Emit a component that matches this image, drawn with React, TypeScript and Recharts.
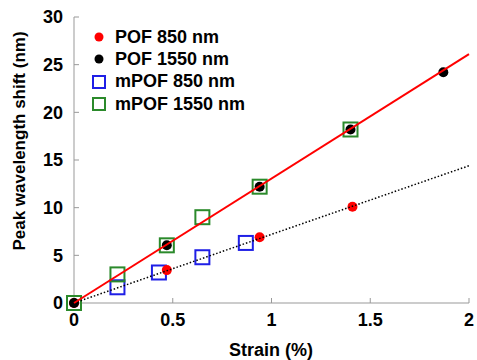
import React from 'react';
import { ComposedChart, Scatter, XAxis, YAxis, Legend } from 'recharts';

const pof850Strain = [0, 0.47, 0.94, 1.41];
const pof850Shift = [0, 3.45, 6.9, 10.1];
const pof1550Strain = [0, 0.47, 0.94, 1.4, 1.87];
const pof1550Shift = [0, 6.05, 12.2, 18.2, 24.2];
const mpof850Strain = [0, 0.22, 0.43, 0.65, 0.87];
const mpof850Shift = [0, 1.65, 3.2, 4.8, 6.3];
const mpof1550Strain = [0, 0.22, 0.47, 0.65, 0.94, 1.4];
const mpof1550Shift = [0, 3.0, 6.05, 9.0, 12.2, 18.2];
const fit1550Strain = [0, 2];
const fit1550Shift = [0, 26.1];
const fit850Strain = [0, 2];
const fit850Shift = [0, 14.4];

const xTicks = [0, 0.5, 1, 1.5, 2];
const yTicks = [0, 5, 10, 15, 20, 25, 30];

const zip = (xs: number[], ys: number[]) => xs.map((x, i) => ({ x, y: ys[i] }));

const pof850 = zip(pof850Strain, pof850Shift);
const pof1550 = zip(pof1550Strain, pof1550Shift);
const mpof850 = zip(mpof850Strain, mpof850Shift);
const mpof1550 = zip(mpof1550Strain, mpof1550Shift);
const fit1550 = zip(fit1550Strain, fit1550Shift);
const fit850 = zip(fit850Strain, fit850Shift);

const FONT = '"Liberation Sans", Arial, Helvetica, sans-serif';
const AXIS_GRAY = '#999999';
const RED = '#ff0000';
const BLUE = '#1f1fe6';
const GREEN = '#2b8a2b';

const dot = (color: string) => (props: any) => (
  <circle cx={props.cx} cy={props.cy} r={5} fill={color} />
);
const square = (color: string) => (props: any) => (
  <rect x={props.cx - 7} y={props.cy - 7} width={14} height={14} fill="none" stroke={color} strokeWidth={2} />
);
const noShape = () => <g />;

const legendItems = [
  { label: 'POF 850 nm', color: RED, kind: 'dot' },
  { label: 'POF 1550 nm', color: '#000000', kind: 'dot' },
  { label: 'mPOF 850 nm', color: BLUE, kind: 'square' },
  { label: 'mPOF 1550 nm', color: GREEN, kind: 'square' },
];

const LegendContent = () => (
  <div style={{ fontFamily: FONT, fontWeight: 'bold', fontSize: 18, color: '#000' }}>
    {legendItems.map((it) => (
      <div key={it.label} style={{ display: 'flex', alignItems: 'center', height: 22.3 }}>
        <svg width={16} height={16} style={{ marginRight: 8 }}>
          {it.kind === 'dot' ? (
            <circle cx={8} cy={8} r={4.5} fill={it.color} />
          ) : (
            <rect x={2} y={2} width={12} height={12} fill="none" stroke={it.color} strokeWidth={2} />
          )}
        </svg>
        <span>{it.label}</span>
      </div>
    ))}
  </div>
);

const tickStyle = { fontFamily: FONT, fontWeight: 'bold', fontSize: 18, fill: '#000' };

export default function App() {
  return (
    <div style={{ position: 'absolute', left: 0, top: 0 }}>
      <ComposedChart width={477} height={360} margin={{ top: 17, right: 8, bottom: 27, left: 24 }}>
        <XAxis
          dataKey="x"
          type="number"
          domain={[0, 2]}
          ticks={xTicks}
          height={30}
          stroke={AXIS_GRAY}
          tick={tickStyle}
          tickSize={-5}
          tickMargin={15}
          tickLine={{ stroke: AXIS_GRAY }}
          axisLine={{ stroke: AXIS_GRAY }}
          label={{
            content: () => (
              <text x={271} y={350} textAnchor="middle" dominantBaseline="central" style={{ fontFamily: FONT, fontWeight: 'bold', fontSize: 18, fill: '#000' }}>
                Strain (%)
              </text>
            ),
          }}
        />
        <XAxis
          xAxisId="top"
          orientation="top"
          type="number"
          domain={[0, 2]}
          ticks={xTicks}
          height={0}
          tick={false}
          tickSize={-5}
          tickLine={{ stroke: AXIS_GRAY }}
          axisLine={{ stroke: AXIS_GRAY }}
        />
        <YAxis
          dataKey="y"
          type="number"
          domain={[0, 30]}
          ticks={yTicks}
          width={50}
          tick={tickStyle}
          tickSize={-5}
          tickMargin={16}
          tickLine={{ stroke: AXIS_GRAY }}
          axisLine={{ stroke: AXIS_GRAY }}
          label={{
            content: () => (
              <text x={19} y={141} transform="rotate(-90 19 141)" textAnchor="middle" dominantBaseline="central" style={{ fontFamily: FONT, fontWeight: 'bold', fontSize: 17, fill: '#000' }}>
                Peak wavelength shift (nm)
              </text>
            ),
          }}
        />
        <YAxis
          yAxisId="right"
          orientation="right"
          type="number"
          domain={[0, 30]}
          ticks={yTicks}
          width={0}
          tick={false}
          tickSize={-5}
          tickLine={{ stroke: AXIS_GRAY }}
          axisLine={{ stroke: AXIS_GRAY }}
        />
        <Legend
          layout="vertical"
          align="center"
          verticalAlign="middle"
          content={LegendContent}
          wrapperStyle={{ top: 26, left: 91, width: 'auto' }}
        />
        <Scatter name="mPOF 850 nm" data={mpof850} shape={square(BLUE)} isAnimationActive={false} />
        <Scatter name="mPOF 1550 nm" data={mpof1550} shape={square(GREEN)} isAnimationActive={false} />
        <Scatter name="POF 850 nm" data={pof850} shape={dot(RED)} isAnimationActive={false} />
        <Scatter name="POF 1550 nm" data={pof1550} shape={dot('#000000')} isAnimationActive={false} />
        <Scatter
          name="fit850"
          data={fit850}
          line={{ stroke: '#000000', strokeWidth: 1.5, strokeDasharray: '1.5 2' }}
          shape={noShape}
          legendType="none"
          isAnimationActive={false}
        />
        <Scatter
          name="fit1550"
          data={fit1550}
          line={{ stroke: RED, strokeWidth: 2 }}
          shape={noShape}
          legendType="none"
          isAnimationActive={false}
        />
      </ComposedChart>
    </div>
  );
}
